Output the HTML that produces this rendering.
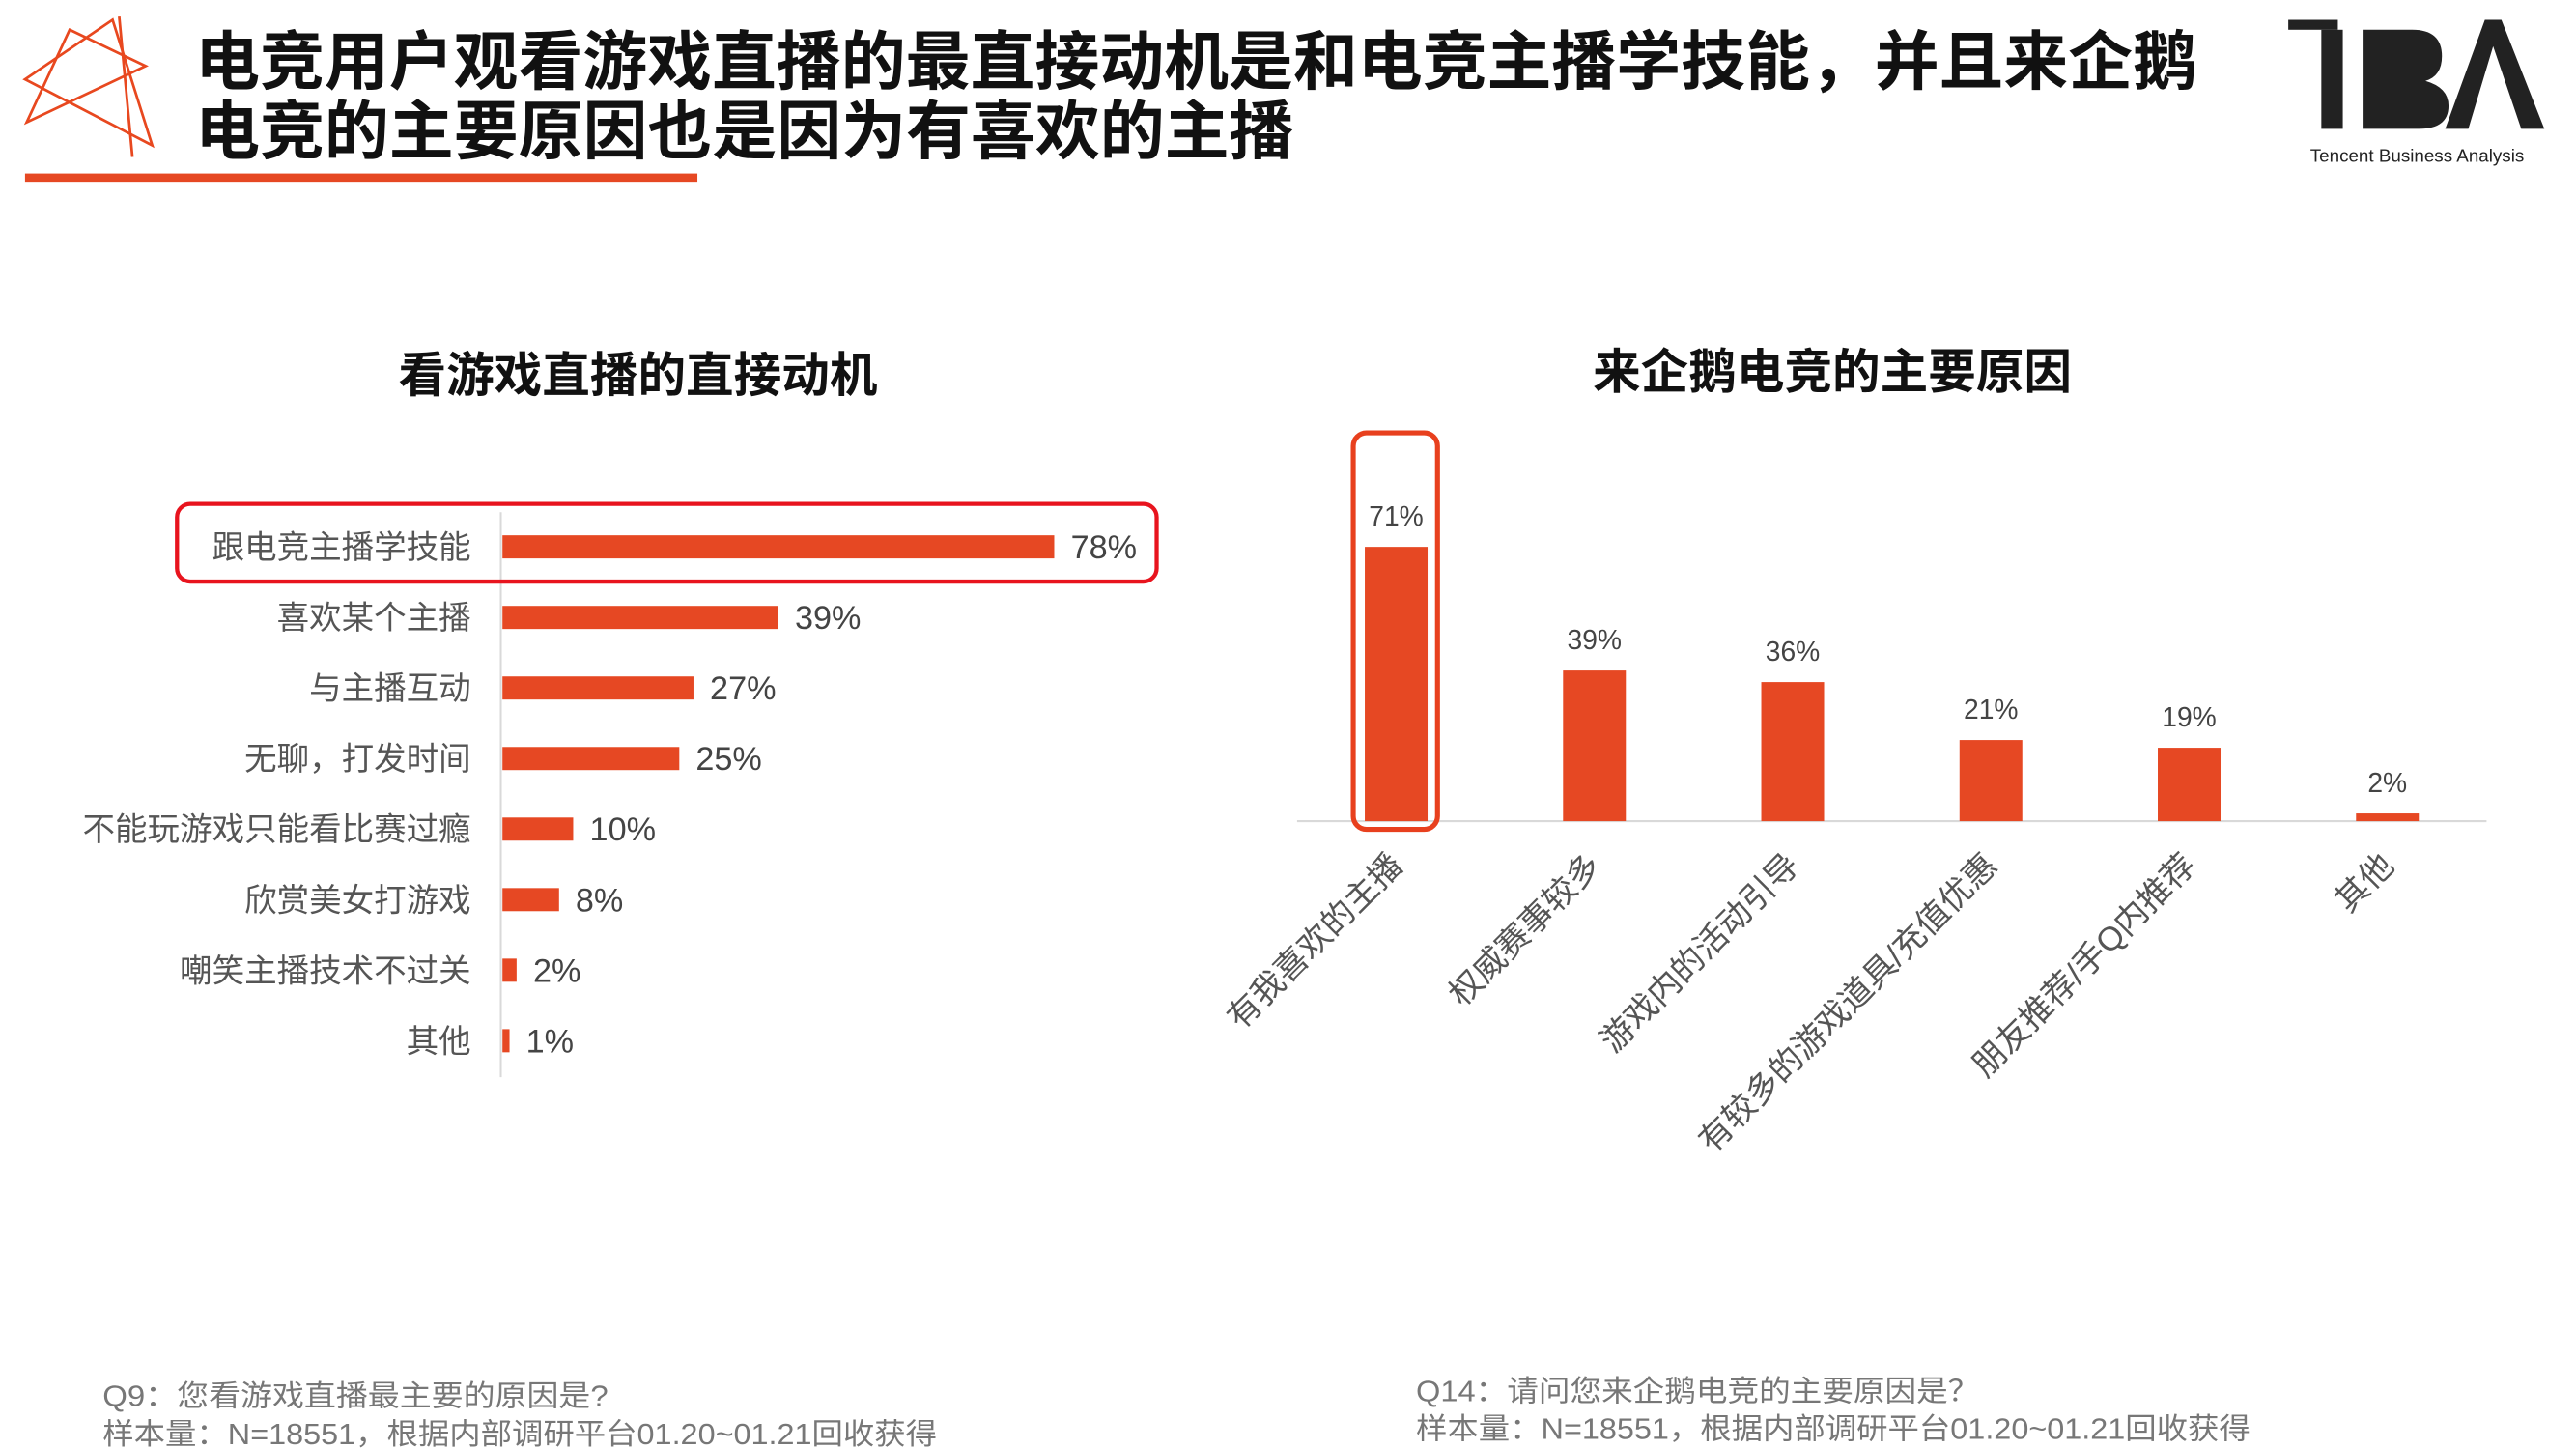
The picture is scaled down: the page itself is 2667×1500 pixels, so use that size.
<!DOCTYPE html>
<html><head><meta charset="utf-8"><style>
html,body{margin:0;padding:0;background:#fff;}
svg{display:block;font-family:"Liberation Sans","Noto Sans CJK SC",sans-serif;}
</style></head><body>
<svg id="root" width="2667" height="1500" viewBox="0 0 1559 877" xmlns="http://www.w3.org/2000/svg">
<g fill="none" stroke="#e8481f" stroke-width="1.6">
<polygon points="15,48 68,12 92,88"/>
<polygon points="42,18 88,40 16,74"/>
<line x1="72" y1="10" x2="80" y2="95"/>
</g>
<g font-weight="bold" font-size="39" fill="#111">
<text x="118" y="51" textLength="1212" lengthAdjust="spacingAndGlyphs">电竞用户观看游戏直播的最直接动机是和电竞主播学技能，并且来企鹅</text>
<text x="118" y="93" textLength="665" lengthAdjust="spacingAndGlyphs">电竞的主要原因也是因为有喜欢的主播</text>
</g>
<rect x="15" y="105" width="407" height="5" fill="#e64823"/>
<g>
<rect x="1385" y="12" width="30" height="6" fill="#222"/>
<rect x="1405" y="18" width="13" height="60" fill="#222"/>
<path d="M1430 18 h30 q18 0 18 16 q0 12 -10 15 q14 4 14 15 q0 14 -18 14 h-34z" fill="#222"/>
<path d="M1480 78 l24 -66 h10 l26 66 h-14 l-17 -50 l-15 50z" fill="#222"/>
<text x="1463" y="98" font-size="11" fill="#222" text-anchor="middle">Tencent Business Analysis</text>
</g>
<text x="386" y="237" font-size="29" font-weight="bold" text-anchor="middle" fill="#111">看游戏直播的直接动机</text>
<text x="1109" y="235" font-size="29" font-weight="bold" text-anchor="middle" fill="#111">来企鹅电竞的主要原因</text>
<g id="left"></g>
<g id="right"></g>
<g font-size="18" fill="#777">
<text x="62" y="851" textLength="306" lengthAdjust="spacingAndGlyphs">Q9：您看游戏直播最主要的原因是?</text>
<text x="62" y="874" textLength="505" lengthAdjust="spacingAndGlyphs">样本量：N=18551，根据内部调研平台01.20~01.21回收获得</text>
</g>
<g font-size="18" fill="#777">
<text x="857" y="848" textLength="341" lengthAdjust="spacingAndGlyphs">Q14：请问您来企鹅电竞的主要原因是？</text>
<text x="857" y="871" textLength="505" lengthAdjust="spacingAndGlyphs">样本量：N=18551，根据内部调研平台01.20~01.21回收获得</text>
</g>
</svg>
<script>
const leftCats=["跟电竞主播学技能","喜欢某个主播","与主播互动","无聊，打发时间","不能玩游戏只能看比赛过瘾","欣赏美女打游戏","嘲笑主播技术不过关","其他"];
const leftVals=[78,39,27,25,10,8,2,1];
const rightCats=["有我喜欢的主播","权威赛事较多","游戏内的活动引导","有较多的游戏道具/充值优惠","朋友推荐/手Q内推荐","其他"];
const rightVals=[71,39,36,21,19,2];
const NS="http://www.w3.org/2000/svg";
function mk(tag,attrs,parent,txt){const e=document.createElementNS(NS,tag);for(const k in attrs)e.setAttribute(k,attrs[k]);if(txt!=null)e.textContent=txt;parent.appendChild(e);return e;}
const C="#e64823";
const L=document.getElementById('left');
const lx0=304,lScale=334/78,ly0=331,lStep=42.7;
const lx=v=>lx0+v*lScale, ly=i=>ly0+i*lStep;
let ax=mk('line',{x1:303,y1:310,x2:303,y2:652,stroke:"#d9d9d9","stroke-width":1.2},L);


leftCats.forEach((c,i)=>{
  const b=mk('rect',{x:lx0,y:ly(i)-7,width:Math.max(lx(leftVals[i])-lx0,2),height:14,fill:C},L);
  
  
  const t=mk('text',{x:285,y:ly(i)+7,"font-size":19.6,fill:"#555","text-anchor":"end"},L,c);
  
  
  const v=mk('text',{x:Math.max(lx(leftVals[i]),lx0+2)+10,y:ly(i)+7,"font-size":20,fill:"#444"},L,leftVals[i]+"%");
  
  
});
const hl=mk('rect',{x:107,y:305,width:593,height:47,rx:8,fill:"none",stroke:"#e8141e","stroke-width":2.5},L);


const R=document.getElementById('right');
const rBase=497,rScale=166/71,rx0=845,rStep=120,bw=38;
const ry=v=>rBase-v*rScale, rx=i=>rx0+i*rStep;
const bl=mk('line',{x1:785,y1:rBase,x2:1505,y2:rBase,stroke:"#d9d9d9","stroke-width":1.2},R);


rightCats.forEach((c,i)=>{
  const b=mk('rect',{x:rx(i)-bw/2,y:ry(rightVals[i]),width:bw,height:rBase-ry(rightVals[i]),fill:C},R);
  
  
  const v=mk('text',{x:rx(i),y:ry(rightVals[i])-13,"font-size":16.5,fill:"#444","text-anchor":"middle"},R,rightVals[i]+"%");
  
  
  const t=mk('text',{x:rx(i)+5,y:525,"font-size":20,fill:"#555","text-anchor":"end",transform:`rotate(-45 ${rx(i)+5} 525)`},R,c);
  
  
});
const hr=mk('rect',{x:819,y:262,width:51,height:240,rx:8,fill:"none",stroke:"#e8401e","stroke-width":3},R);


</script>
</body></html>
